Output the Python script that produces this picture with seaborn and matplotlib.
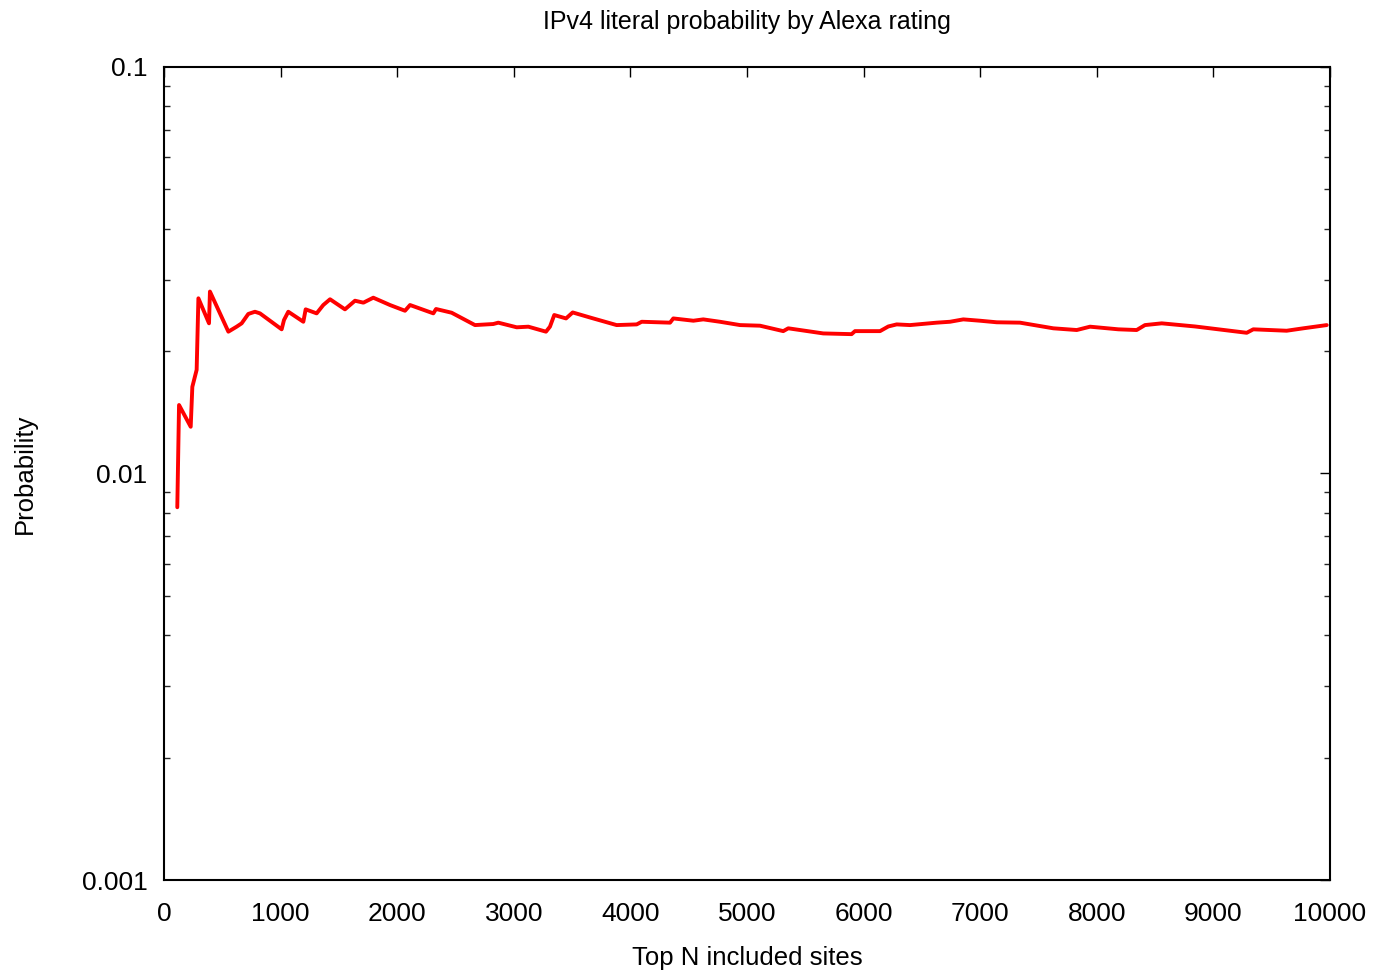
import matplotlib
matplotlib.use("Agg")
import matplotlib.pyplot as plt
import matplotlib.ticker as mticker
import seaborn as sns
import pandas as pd

top_n = [114, 129, 229, 243, 280, 295, 386, 394, 552, 623, 666, 723, 780, 823,
         1009, 1029, 1066, 1195, 1215, 1309, 1366, 1424, 1552, 1638, 1710, 1795,
         1938, 2067, 2110, 2310, 2333, 2467, 2667, 2824, 2867, 3025, 3125, 3276,
         3310, 3347, 3448, 3505, 3668, 3882, 4054, 4097, 4340, 4368, 4540, 4625,
         4768, 4940, 5111, 5311, 5354, 5654, 5897, 5926, 6141, 6212, 6284, 6398,
         6627, 6741, 6855, 6998, 7142, 7341, 7627, 7828, 7942, 8185, 8342, 8413,
         8557, 8842, 9286, 9342, 9628, 9771, 9972]
probability = [0.00826, 0.01474, 0.01303, 0.01634, 0.01799, 0.02698, 0.02341, 0.02803,
               0.02233, 0.02297, 0.02341, 0.02469, 0.02500, 0.02477,
               0.02263, 0.02385, 0.02500, 0.02362, 0.02534, 0.02477, 0.02597, 0.02683,
               0.02534, 0.02661, 0.02632, 0.02707,
               0.02597, 0.02514, 0.02597, 0.02477, 0.02539, 0.02486, 0.02318, 0.02332,
               0.02350, 0.02289, 0.02297, 0.02233,
               0.02297, 0.02454, 0.02407, 0.02490, 0.02413, 0.02318, 0.02327, 0.02362,
               0.02350, 0.02407, 0.02376, 0.02394,
               0.02362, 0.02318, 0.02310, 0.02240, 0.02276, 0.02211, 0.02202, 0.02240,
               0.02240, 0.02300, 0.02327, 0.02318,
               0.02350, 0.02362, 0.02394, 0.02376, 0.02355, 0.02350, 0.02276, 0.02254,
               0.02297, 0.02263, 0.02254, 0.02318,
               0.02341, 0.02300, 0.02219, 0.02263, 0.02245, 0.02276, 0.02318]

x_ticks = [0, 1000, 2000, 3000, 4000, 5000, 6000, 7000, 8000, 9000, 10000]
y_ticks = [0.001, 0.01, 0.1]
y_tick_labels = ["0.001", "0.01", "0.1"]

df = pd.DataFrame({"N": top_n, "p": probability})

sns.set_style("white")
plt.rcParams["font.family"] = ["Liberation Sans", "DejaVu Sans"]
plt.rcParams["text.color"] = "black"
plt.rcParams["axes.labelcolor"] = "black"

fig = plt.figure(figsize=(13.73, 9.72), dpi=100)
ax = fig.add_axes([164 / 1373, 1 - 880 / 972, (1330 - 164) / 1373, (880 - 67) / 972])

sns.lineplot(data=df, x="N", y="p", ax=ax, color="#ff0000", linewidth=2.8)

ax.set_yscale("log")
ax.set_xlim(0, 10000)
ax.set_ylim(0.001, 0.1)
ax.set_xticks(x_ticks)
ax.set_xticklabels([str(t) for t in x_ticks])
ax.set_yticks(y_ticks)
ax.set_yticklabels(y_tick_labels)
ax.yaxis.set_minor_locator(mticker.LogLocator(base=10, subs=range(2, 10)))
ax.yaxis.set_minor_formatter(mticker.NullFormatter())

for s in ax.spines.values():
    s.set_color("black")
    s.set_linewidth(1.5)

ax.tick_params(axis="both", which="major", direction="in", length=7, width=1,
               top=True, right=True, labelsize=19, colors="black")
ax.tick_params(axis="x", which="major", pad=16)
ax.tick_params(axis="y", which="major", pad=12)
ax.tick_params(axis="y", which="minor", direction="in", length=4, width=1,
               left=True, right=True)
ax.tick_params(axis="x", which="minor", bottom=False, top=False)

ax.set_xlabel("Top N included sites", fontsize=18.5, labelpad=14)
ax.set_ylabel("Probability", fontsize=18.5, labelpad=32)
ax.set_title("IPv4 literal probability by Alexa rating", fontsize=18, pad=27)

fig.savefig("out.png", dpi=100)
